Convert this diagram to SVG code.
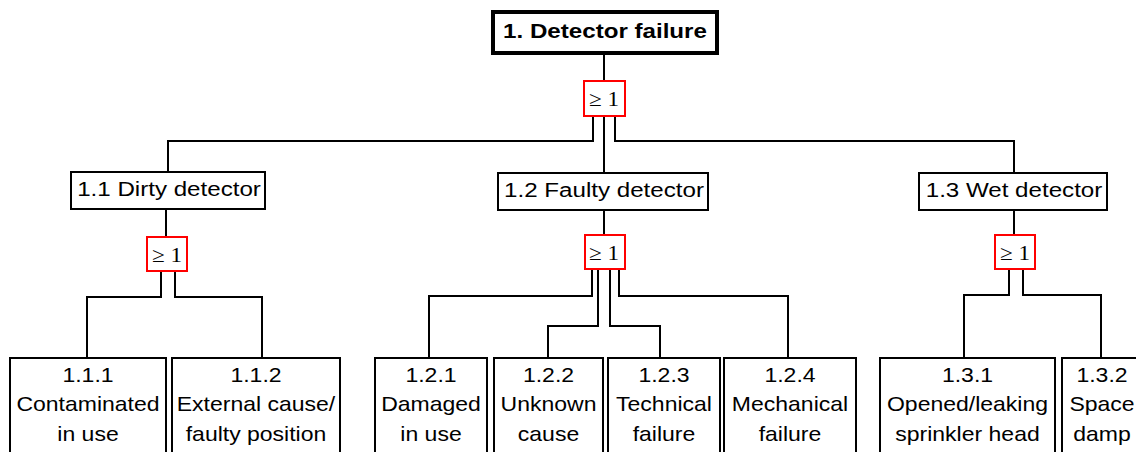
<svg xmlns="http://www.w3.org/2000/svg" width="1136" height="452" viewBox="0 0 1136 452">
<style>
.box{fill:#fff;stroke:#000;stroke-width:2}
.top{fill:#fff;stroke:#000;stroke-width:4}
.gate{fill:#fff;stroke:#ff0000;stroke-width:2}
.c{fill:none;stroke:#000;stroke-width:2}
.t{font-family:"Liberation Sans",Arial,sans-serif;font-size:20px;fill:#000;text-anchor:middle}
.tm{font-family:"Liberation Sans",Arial,sans-serif;font-size:21px;fill:#000;text-anchor:middle}
.tb{font-family:"Liberation Sans",Arial,sans-serif;font-size:21px;font-weight:bold;fill:#000;text-anchor:middle}
.g{font-family:"Liberation Serif","Times New Roman",serif;font-size:21px;fill:#000;text-anchor:middle}
</style>
<rect width="1136" height="452" fill="#fff"/>
<g id="connectors">
<path class="c" d="M604 55V80"/>
<path class="c" d="M593 117V141H168V172"/>
<path class="c" d="M604 117V173"/>
<path class="c" d="M615 117V141H1014V173"/>
<path class="c" d="M166 209V236"/>
<path class="c" d="M161 272V297H87V358"/>
<path class="c" d="M175 272V297H262V358"/>
<path class="c" d="M604 209V234"/>
<path class="c" d="M592 270V296H429V358"/>
<path class="c" d="M598 270V326H548V358"/>
<path class="c" d="M610 270V326H660V358"/>
<path class="c" d="M619 270V296H788V358"/>
<path class="c" d="M1014 209V234"/>
<path class="c" d="M1009 270V295H964V358"/>
<path class="c" d="M1023 270V295H1101V358"/>
</g>
<g id="n1">
<rect class="top" x="493" y="12" width="224" height="41"/>
<text class="tb" transform="matrix(1.15 0 0 1 605 0)" x="0" y="38">1. Detector failure</text>
</g>
<g id="gate1">
<rect class="gate" x="584" y="81" width="41" height="35"/>
<text class="g" transform="matrix(1.1 0 0 1 604 0)" x="0" y="106">≥ 1</text>
</g>
<g id="n1_1">
<rect class="box" x="71" y="172" width="194" height="37"/>
<text class="tm" transform="matrix(1.15 0 0 1 169 0)" x="0" y="196">1.1 Dirty detector</text>
</g>
<g id="gate1_1">
<rect class="gate" x="147" y="237" width="40" height="34"/>
<text class="g" transform="matrix(1.1 0 0 1 167 0)" x="0" y="262">≥ 1</text>
</g>
<g id="n1_2">
<rect class="box" x="498" y="173" width="210" height="37"/>
<text class="tm" transform="matrix(1.15 0 0 1 604 0)" x="0" y="197">1.2 Faulty detector</text>
</g>
<g id="gate1_2">
<rect class="gate" x="585" y="235" width="40" height="34"/>
<text class="g" transform="matrix(1.1 0 0 1 604 0)" x="0" y="260">≥ 1</text>
</g>
<g id="n1_3">
<rect class="box" x="919" y="173" width="188" height="37"/>
<text class="tm" transform="matrix(1.15 0 0 1 1014 0)" x="0" y="197">1.3 Wet detector</text>
</g>
<g id="gate1_3">
<rect class="gate" x="995" y="235" width="40" height="34"/>
<text class="g" transform="matrix(1.1 0 0 1 1015 0)" x="0" y="260">≥ 1</text>
</g>
<g id="n1_1_1">
<rect class="box" x="10" y="358" width="156" height="120"/>
<g transform="matrix(1.15 0 0 1 88 0)"><text class="t" x="0" y="382">1.1.1</text><text class="t" x="0" y="411.5">Contaminated</text><text class="t" x="0" y="441">in use</text></g>
</g>
<g id="n1_1_2">
<rect class="box" x="172" y="358" width="168" height="120"/>
<g transform="matrix(1.15 0 0 1 256 0)"><text class="t" x="0" y="382">1.1.2</text><text class="t" x="0" y="411.5">External cause/</text><text class="t" x="0" y="441">faulty position</text></g>
</g>
<g id="n1_2_1">
<rect class="box" x="375" y="358" width="112" height="120"/>
<g transform="matrix(1.15 0 0 1 431 0)"><text class="t" x="0" y="382">1.2.1</text><text class="t" x="0" y="411.5">Damaged</text><text class="t" x="0" y="441">in use</text></g>
</g>
<g id="n1_2_2">
<rect class="box" x="494" y="358" width="109" height="120"/>
<g transform="matrix(1.15 0 0 1 548.5 0)"><text class="t" x="0" y="382">1.2.2</text><text class="t" x="0" y="411.5">Unknown</text><text class="t" x="0" y="441">cause</text></g>
</g>
<g id="n1_2_3">
<rect class="box" x="608" y="358" width="112" height="120"/>
<g transform="matrix(1.15 0 0 1 664 0)"><text class="t" x="0" y="382">1.2.3</text><text class="t" x="0" y="411.5">Technical</text><text class="t" x="0" y="441">failure</text></g>
</g>
<g id="n1_2_4">
<rect class="box" x="724" y="358" width="132" height="120"/>
<g transform="matrix(1.15 0 0 1 790 0)"><text class="t" x="0" y="382">1.2.4</text><text class="t" x="0" y="411.5">Mechanical</text><text class="t" x="0" y="441">failure</text></g>
</g>
<g id="n1_3_1">
<rect class="box" x="880" y="358" width="175" height="120"/>
<g transform="matrix(1.15 0 0 1 967.5 0)"><text class="t" x="0" y="382">1.3.1</text><text class="t" x="0" y="411.5">Opened/leaking</text><text class="t" x="0" y="441">sprinkler head</text></g>
</g>
<g id="n1_3_2">
<rect class="box" x="1062" y="358" width="100" height="120"/>
<g transform="matrix(1.15 0 0 1 1102 0)"><text class="t" x="0" y="382">1.3.2</text><text class="t" x="0" y="411.5">Space</text><text class="t" x="0" y="441">damp</text></g>
</g>
</svg>
